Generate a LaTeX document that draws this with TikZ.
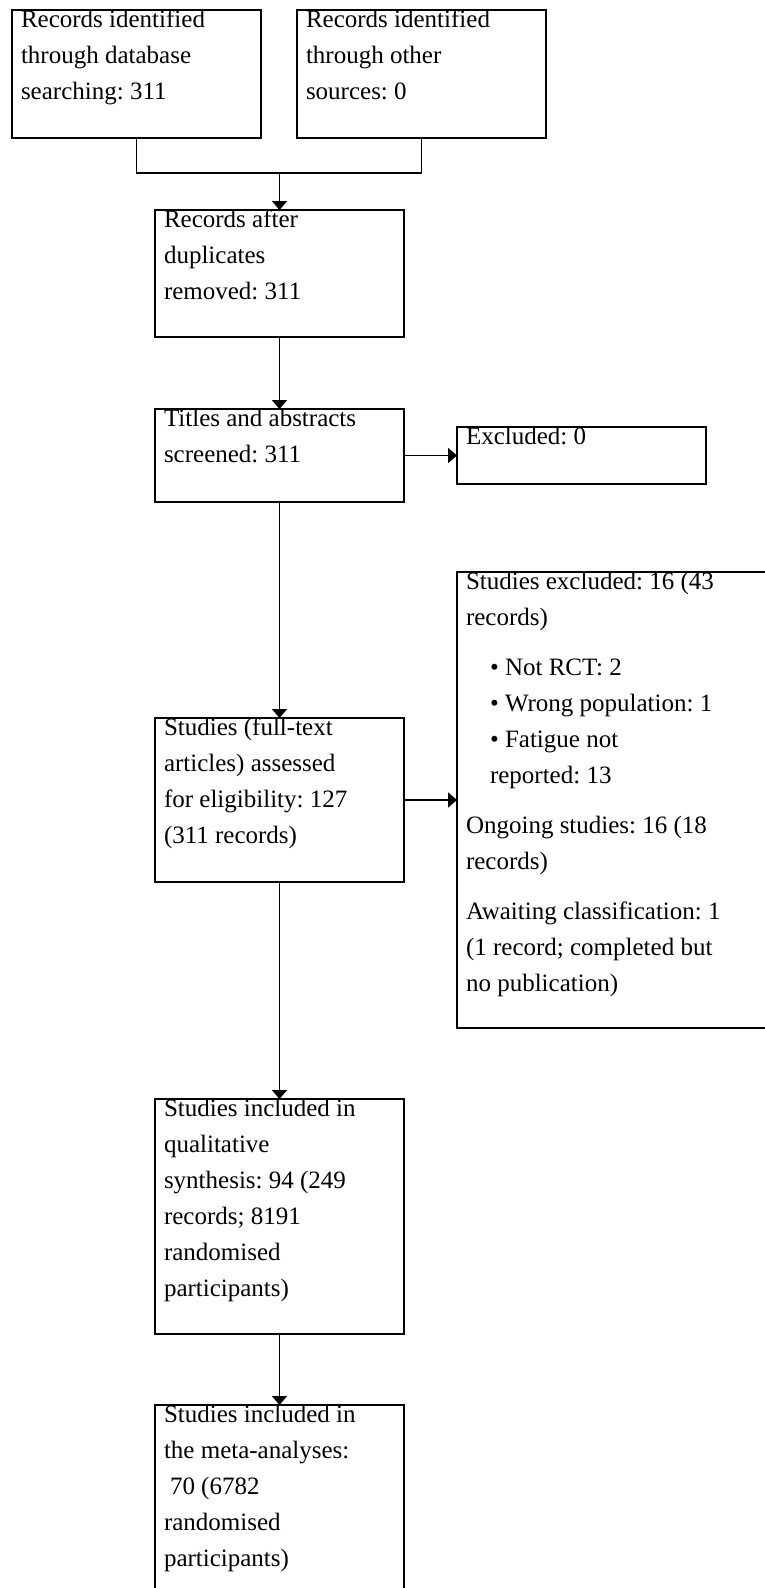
\documentclass[tikz,border=0pt]{standalone}
\usepackage{fontspec}
\setmainfont{Liberation Serif}
\usetikzlibrary{arrows.meta,calc}
\tikzset{
  box/.style={draw, line width=1.6pt, rectangle, inner sep=0pt, outer sep=0pt, anchor=north west},
  txt/.style={anchor=base west, inner sep=0pt, outer sep=0pt},
  conn/.style={line width=1.6pt},
  arr/.style={line width=1.6pt, -{Triangle[width=15pt,length=9pt]}},
}
\newcommand{\boxtext}[1]{\fontsize{25}{36}\selectfont\frenchspacing\parbox[t]{400pt}{\raggedright #1}}
\begin{document}
\begin{tikzpicture}[x=1pt,y=-1pt]
\useasboundingbox (0,0) rectangle (765,1588);
\clip (0,0) rectangle (765,1588);
% boxes
\node[box, minimum width=249pt, minimum height=128pt] (b1) at (12,10) {};
\node[box, minimum width=249pt, minimum height=128pt] (b2) at (297,10) {};
\node[box, minimum width=249pt, minimum height=127pt] (b3) at (155,210) {};
\node[box, minimum width=249pt, minimum height=93pt] (b4) at (155,409) {};
\node[box, minimum width=249pt, minimum height=57pt] (e1) at (457,427) {};
\node[box, minimum width=249pt, minimum height=164pt] (b5) at (155,718) {};
\node[box, minimum width=315pt, minimum height=456pt] (e2) at (457,572) {};
\node[box, minimum width=249pt, minimum height=235pt] (b6) at (155,1099) {};
\node[box, minimum width=249pt, minimum height=245pt] (b7) at (155,1405) {};
% texts
\node[txt] (t1) at ($(b1.north west)+(9,17)$) {\boxtext{Records identified\\through database\\searching: 311}};
\node[txt] (t2) at ($(b2.north west)+(9,17)$) {\boxtext{Records identified\\through other\\sources: 0}};
\node[txt] (t3) at ($(b3.north west)+(9,17)$) {\boxtext{Records after\\duplicates\\removed: 311}};
\node[txt] (t4) at ($(b4.north west)+(9,17)$) {\boxtext{Titles and abstracts\\screened: 311}};
\node[txt] (te1) at ($(e1.north west)+(9,17)$) {\boxtext{Excluded: 0}};
\node[txt] (t5) at ($(b5.north west)+(9,17)$) {\boxtext{Studies (full-text\\articles) assessed\\for eligibility: 127\\(311 records)}};
\node[txt] (te2) at ($(e2.north west)+(9,17)$) {\boxtext{Studies excluded: 16 (43\\records)\\[14pt]
\hspace*{24pt}• Not RCT: 2\\
\hspace*{24pt}• Wrong population: 1\\
\hspace*{24pt}• Fatigue not\\
\hspace*{24pt}reported: 13\\[14pt]
Ongoing studies: 16 (18\\records)\\[14pt]
Awaiting classification: 1\\(1 record; completed but\\no publication)}};
\node[txt] (t6) at ($(b6.north west)+(9,17)$) {\boxtext{Studies included in\\qualitative\\synthesis: 94 (249\\records; 8191\\randomised\\participants)}};
\node[txt] (t7) at ($(b7.north west)+(9,17)$) {\boxtext{Studies included in\\the meta-analyses:\\\hspace*{6pt}70 (6782\\randomised\\participants)}};
% connectors
\coordinate (j) at ($(b3.north)+(0,-37)$);
\draw[conn] (b1.south) -- (b1.south |- j) -- (b2.south |- j) -- (b2.south);
\draw[arr] (j) -- (b3.north);
\draw[arr] (b3.south) -- (b4.north);
\draw[arr] (b4.east) -- (e1.west);
\draw[arr] (b4.south) -- (b5.north);
\draw[arr] (b5.east) -- (b5.east -| e2.west);
\draw[arr] (b5.south) -- (b6.north);
\draw[arr] (b6.south) -- (b7.north);
\end{tikzpicture}
\end{document}
